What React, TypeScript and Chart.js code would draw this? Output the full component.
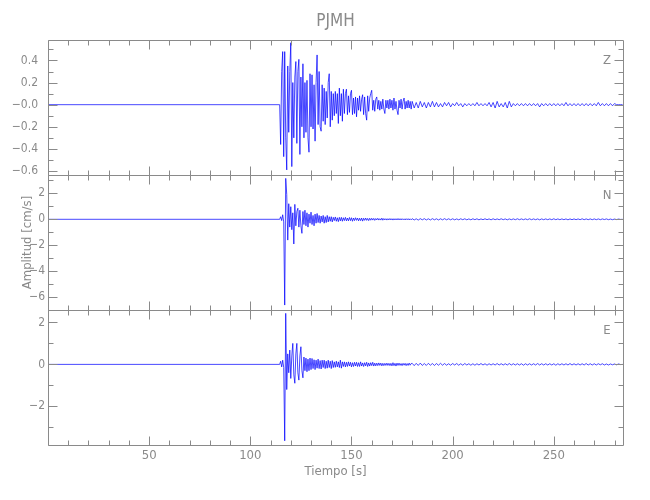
import React, { useEffect, useRef } from 'react';
import { Chart, registerables } from 'chart.js';

Chart.register(...registerables);

// ---------- data ----------
const STATION = 'PJMH';
const X_TITLE = 'Tiempo [s]';
const Y_TITLE = 'Amplitud [cm/s]';
const X_MIN = 0;
const X_MAX = 284.2;

const PRE_START = 0;
const EVENT_START = 114.5;
const EVENT_DT = 0.5;
const TAIL_START = 180;
const TAIL_DT = 1;

const Z_EVENT = [
  0.0, -0.36, 0.30, 0.48, -0.47, 0.48, -0.30, -0.59, 0.35, -0.25,
  0.30, 0.56, -0.56, 0.20, -0.30, 0.25, 0.39, -0.35, 0.30, 0.41,
  -0.45, 0.25, -0.20, 0.37, -0.30, 0.20, -0.25, 0.22, -0.30, -0.43,
  0.28, -0.20, 0.27, -0.22, 0.18, -0.33, 0.20, 0.45, -0.18, 0.30,
  -0.20, -0.24, 0.18, -0.15, 0.15, -0.18, 0.12, -0.12, 0.20, 0.28,
  -0.20, 0.12, -0.14, 0.10, -0.10, 0.12, -0.08, 0.10, -0.17, 0.15,
  -0.10, 0.10, -0.15, 0.14, -0.08, 0.10, 0.14, -0.09, 0.08, -0.07,
  0.10, 0.13, -0.09, 0.06, -0.08, 0.07, -0.11, 0.06, -0.05, 0.08,
  -0.06, 0.05, 0.09, -0.09, 0.07, -0.08, -0.14, 0.08, -0.06, 0.06,
  0.10, 0.13, -0.05, 0.04, -0.06, 0.05, 0.07, -0.04, 0.04, -0.05,
  0.03, -0.04, 0.05, -0.04, -0.08, 0.04, -0.03, 0.04, -0.04, 0.05,
  -0.03, 0.04, -0.05, 0.06, -0.04, 0.03, -0.05, -0.09, 0.04, -0.03,
  0.05, -0.04, 0.03, 0.06, -0.04, 0.03, -0.03, 0.04, -0.03, 0.03,
  -0.04,
];
const Z_TAIL = [
  0.03, -0.03, 0.02, -0.03, 0.03, -0.02, 0.02, -0.03, 0.02, -0.02,
  0.03, -0.02, 0.02, -0.02, 0.01, -0.02, 0.02, -0.01, 0.02, -0.02,
  0.01, -0.01, 0.02, -0.01, 0.01, -0.02, 0.01, -0.01, 0.01, -0.01,
  0.01, -0.01, 0.02, -0.01, 0.01, -0.01, 0.01, -0.01, 0.02, -0.02,
  0.02, -0.03, 0.03, -0.02, 0.01, -0.02, 0.02, -0.03, 0.03, -0.02,
  0.01, -0.01, 0.01, -0.01, 0.01, -0.01, 0.01, -0.01, 0.01, -0.01,
  0.01, -0.01, 0.01, -0.02, 0.01, -0.01, 0.01, -0.01, 0.01, -0.01,
  0.01, -0.01, 0.01, -0.01, 0.01, -0.01, 0.02, -0.01, 0.01, -0.01,
  0.01, -0.01, 0.01, -0.01, 0.01, -0.01, 0.01, -0.01, 0.01, -0.01,
  0.01, -0.01, 0.02, -0.01, 0.01, -0.01, 0.01, -0.01, 0.01, -0.01,
  0.01, 0.0, 0.0, 0.0, 0.0,
];

const N_EVENT = [
  0.0, 0.2, -0.1, 0.35, -0.2, -6.6, 3.15, 1.9, -1.6, 1.2,
  -0.6, 0.97, -0.8, 0.5, -1.9, 1.15, -0.5, 0.6, 0.85, -0.6,
  0.7, -0.5, -1.08, 0.6, -0.4, 0.7, -0.5, 0.5, -0.6, 0.4,
  -0.3, 0.55, -0.4, 0.3, -0.5, 0.4, -0.3, 0.45, -0.25, 0.3,
  -0.3, 0.25, -0.2, 0.3, -0.3, 0.2, -0.25, 0.3, -0.2, 0.2,
  -0.15, 0.2, -0.2, 0.15, -0.1, 0.18, -0.15, 0.12, -0.18, 0.15,
  -0.12, 0.15, -0.15, 0.12, -0.1, 0.15, -0.12, 0.1, -0.12, 0.14,
  -0.1, 0.12, -0.15, 0.1, -0.1, 0.12, -0.08, 0.1, -0.12, 0.08,
  -0.1, 0.1, -0.14, 0.08, -0.08, 0.1, -0.08, 0.07, -0.1, 0.08,
  -0.07, 0.08, -0.06, 0.07, -0.08, 0.06, -0.05, 0.08, -0.06, 0.05,
  -0.06, 0.09, -0.07, 0.06, -0.05, 0.05, -0.06, 0.05, -0.05, 0.06,
  -0.05, 0.05, -0.06, 0.05, -0.05, 0.05, -0.05, 0.06, -0.05, 0.05,
  -0.05, 0.05, -0.04, 0.04, -0.05, 0.05, -0.04, 0.05, -0.05, 0.04,
  -0.04,
];
const N_TAIL = [
  0.05, -0.05, 0.04, -0.06, 0.05, -0.04, 0.05, -0.05, 0.04, -0.05,
  0.05, -0.04, 0.04, -0.05, 0.04, -0.04, 0.05, -0.04, 0.04, -0.04,
  0.04, -0.04, 0.03, -0.04, 0.04, -0.03, 0.04, -0.04, 0.03, -0.04,
  0.04, -0.03, 0.04, -0.04, 0.03, -0.03, 0.04, -0.03, 0.03, -0.04,
  0.04, -0.03, 0.03, -0.03, 0.04, -0.03, 0.03, -0.04, 0.03, -0.03,
  0.03, -0.03, 0.04, -0.03, 0.03, -0.03, 0.03, -0.03, 0.04, -0.03,
  0.03, -0.03, 0.03, -0.04, 0.03, -0.03, 0.03, -0.03, 0.03, -0.03,
  0.04, -0.03, 0.03, -0.03, 0.03, -0.03, 0.03, -0.04, 0.03, -0.03,
  0.03, -0.03, 0.03, -0.03, 0.04, -0.03, 0.03, -0.03, 0.03, -0.03,
  0.03, -0.03, 0.03, -0.03, 0.03, -0.02, 0.03, -0.03, 0.02, -0.03,
  0.02, -0.02, 0.02, -0.01, 0.0,
];

const E_EVENT = [
  0.0, 0.15, -0.12, 0.2, -0.15, -3.64, 2.43, -1.2, 0.5, -0.4,
  0.68, -0.67, 0.4, 1.0, -0.5, -0.9, 0.5, 1.0, -0.4, -0.75,
  0.4, 0.84, -0.3, -0.64, 0.35, -0.3, 0.3, -0.35, 0.25, -0.3,
  0.3, -0.25, 0.28, -0.2, 0.22, -0.25, 0.2, -0.18, 0.25, -0.2,
  0.18, -0.22, 0.2, -0.15, 0.2, -0.2, 0.15, -0.18, 0.2, -0.15,
  0.15, -0.2, 0.18, -0.15, 0.12, -0.14, 0.15, -0.12, 0.12, -0.15,
  0.2, -0.18, 0.12, -0.1, 0.12, -0.12, 0.1, -0.1, 0.12, -0.08,
  0.1, -0.12, 0.08, -0.1, 0.1, -0.08, 0.1, -0.1, 0.08, -0.1,
  0.12, -0.08, 0.07, -0.1, 0.08, -0.07, 0.1, -0.1, 0.07, -0.08,
  0.08, -0.06, 0.1, -0.08, 0.06, -0.07, 0.06, -0.06, 0.07, -0.05,
  0.06, -0.07, 0.05, -0.06, 0.05, -0.05, 0.06, -0.05, 0.05, -0.06,
  0.05, -0.07, 0.08, -0.06, 0.05, -0.08, 0.06, -0.05, 0.06, -0.05,
  0.04, -0.06, 0.05, -0.04, 0.05, -0.06, 0.04, -0.05, 0.06, -0.04,
  0.04,
];
const E_TAIL = [
  0.05, -0.06, 0.05, -0.05, 0.06, -0.05, 0.04, -0.05, 0.05, -0.04,
  0.04, -0.05, 0.04, -0.04, 0.05, -0.04, 0.04, -0.04, 0.03, -0.04,
  0.04, -0.03, 0.04, -0.04, 0.03, -0.04, 0.04, -0.03, 0.03, -0.04,
  0.03, -0.04, 0.03, -0.03, 0.04, -0.03, 0.03, -0.04, 0.03, -0.03,
  0.03, -0.03, 0.04, -0.03, 0.03, -0.03, 0.03, -0.03, 0.04, -0.03,
  0.03, -0.03, 0.03, -0.03, 0.03, -0.04, 0.03, -0.03, 0.03, -0.03,
  0.03, -0.03, 0.04, -0.03, 0.03, -0.03, 0.03, -0.03, 0.03, -0.03,
  0.03, -0.04, 0.03, -0.03, 0.03, -0.03, 0.03, -0.03, 0.04, -0.03,
  0.03, -0.03, 0.03, -0.03, 0.03, -0.03, 0.04, -0.03, 0.03, -0.03,
  0.03, -0.03, 0.03, -0.02, 0.03, -0.03, 0.02, -0.03, 0.02, -0.02,
  0.02, -0.02, 0.02, -0.01, 0.0,
];

// panels listed top to bottom
const COMPONENT_NAMES = ['Z', 'N', 'E'];
const Y_MIN = [-0.636, -6.98, -3.84];
const Y_MAX = [0.585, 3.41, 2.59];
const Y_STEP = [0.2, 2, 2];
const Y_MINOR = [0.1, 1, 1];
const TRACES_EVENT = [Z_EVENT, N_EVENT, E_EVENT];
const TRACES_TAIL = [Z_TAIL, N_TAIL, E_TAIL];

// ---------- styling ----------
const GRAY = '#8a8a8a';
const FONT = '"DejaVu Sans Condensed", "DejaVu Sans", sans-serif';
const TRACE_COLOR = 'rgba(0,0,255,0.9)';
const AXIS_IDS = ['yZ', 'yN', 'yE'];
const LABEL_PAD = [10, 3, 3];

function buildPoints(event: number[], tail: number[]) {
  const pts: { x: number; y: number }[] = [{ x: PRE_START, y: 0 }];
  event.forEach((v, i) => pts.push({ x: EVENT_START + i * EVENT_DT, y: v }));
  tail.forEach((v, i) => pts.push({ x: TAIL_START + i * TAIL_DT, y: v }));
  return pts;
}

function fmtY(v: number, idx: number) {
  if (Math.abs(v) < 1e-9) return idx === 0 ? '\u22120.0' : '0';
  const s = idx === 0 ? Math.abs(v).toFixed(1) : String(Math.round(Math.abs(v)));
  return v < 0 ? '\u2212' + s : s;
}

const framePlugin = {
  id: 'seisFrame',
  afterDraw(chart: any) {
    const ctx = chart.ctx as CanvasRenderingContext2D;
    const xs = chart.scales.x;
    const left = Math.round(chart.chartArea.left) + 0.5;
    const right = Math.round(chart.chartArea.right) + 0.5;
    ctx.save();
    ctx.strokeStyle = GRAY;
    ctx.lineWidth = 1;
    AXIS_IDS.forEach((id, idx) => {
      const s = chart.scales[id];
      const top = Math.round(s.top) + 0.5;
      const bottom = Math.round(s.bottom) + 0.5;
      ctx.beginPath();
      ctx.rect(left, top, right - left, bottom - top);
      for (let k = 0; k * 10 <= X_MAX; k++) {
        const t = k * 10;
        const px = Math.round(xs.getPixelForValue(t)) + 0.5;
        const len = t % 50 === 0 ? 9 : 5;
        ctx.moveTo(px, top);
        ctx.lineTo(px, top + len);
        ctx.moveTo(px, bottom);
        ctx.lineTo(px, bottom - len);
      }
      const minor = Y_MINOR[idx];
      const major = Y_STEP[idx];
      const k0 = Math.ceil(s.min / minor - 1e-9);
      const k1 = Math.floor(s.max / minor + 1e-9);
      for (let k = k0; k <= k1; k++) {
        const v = k * minor;
        const py = Math.round(s.getPixelForValue(v)) + 0.5;
        const r = v / major;
        const len = Math.abs(r - Math.round(r)) < 1e-6 ? 9 : 5;
        ctx.moveTo(left, py);
        ctx.lineTo(left + len, py);
        ctx.moveTo(right, py);
        ctx.lineTo(right - len, py);
      }
      ctx.stroke();
      ctx.fillStyle = GRAY;
      ctx.font = '13px ' + FONT;
      ctx.textAlign = 'center';
      ctx.textBaseline = 'middle';
      ctx.fillText(COMPONENT_NAMES[idx], 607, s.top + 21);
    });
    // title
    ctx.fillStyle = GRAY;
    ctx.font = '17px ' + FONT;
    ctx.textAlign = 'center';
    ctx.textBaseline = 'middle';
    const cx = (chart.chartArea.left + chart.chartArea.right) / 2;
    ctx.fillText(STATION, cx, 22);
    // x title
    ctx.font = '13px ' + FONT;
    ctx.fillText(X_TITLE, cx, 472);
    // y title
    const mid = chart.scales.yN;
    ctx.translate(28, (mid.top + mid.bottom) / 2);
    ctx.rotate(-Math.PI / 2);
    ctx.fillText(Y_TITLE, 0, 0);
    ctx.restore();
  },
};

export default function App() {
  const ref = useRef<HTMLCanvasElement | null>(null);
  useEffect(() => {
    if (!ref.current) return;
    const scales: any = {
      x: {
        type: 'linear',
        min: X_MIN,
        max: X_MAX,
        grid: { display: false, drawTicks: false, tickLength: 0 },
        border: { display: false },
        ticks: {
          stepSize: 50,
          includeBounds: false,
          autoSkip: false,
          maxRotation: 0,
          padding: 3,
          color: GRAY,
          font: { family: FONT, size: 13 },
          callback: (v: number) => (v === 0 ? '' : String(v)),
        },
        afterFit: (s: any) => {
          s.height = 55;
        },
      },
    };
    // Chart.js stacks left axes bottom-up in definition order, so define E, N, Z
    [2, 1, 0].forEach((idx) => {
      scales[AXIS_IDS[idx]] = {
        type: 'linear',
        position: 'left',
        stack: 'panels',
        stackWeight: 1,
        offset: false,
        min: Y_MIN[idx],
        max: Y_MAX[idx],
        grid: { display: false, drawTicks: false, tickLength: 0 },
        border: { display: false },
        ticks: {
          stepSize: Y_STEP[idx],
          includeBounds: false,
          autoSkip: false,
          padding: LABEL_PAD[idx],
          color: GRAY,
          font: { family: FONT, size: 12 },
          callback: (v: number) => fmtY(v, idx),
        },
        afterFit: (s: any) => {
          s.width = 48;
        },
      };
    });
    const chart = new Chart(ref.current, {
      type: 'line',
      data: {
        datasets: AXIS_IDS.map((id, idx) => ({
          label: COMPONENT_NAMES[idx],
          data: buildPoints(TRACES_EVENT[idx], TRACES_TAIL[idx]),
          yAxisID: id,
          borderColor: TRACE_COLOR,
          borderWidth: 0.8,
          pointRadius: 0,
          tension: 0,
          fill: false,
        })),
      },
      options: {
        animation: false,
        responsive: false,
        devicePixelRatio: 1,
        layout: { padding: { left: 0, right: 27, top: 40, bottom: 0 } },
        plugins: { legend: { display: false }, tooltip: { enabled: false }, title: { display: false } },
        scales,
      },
      plugins: [framePlugin],
    } as any);
    return () => chart.destroy();
  }, []);
  return (
    <div style={{ position: 'absolute', left: 0, top: 0, width: 650, height: 500, background: '#fff' }}>
      <canvas ref={ref} width={650} height={500} />
    </div>
  );
}
